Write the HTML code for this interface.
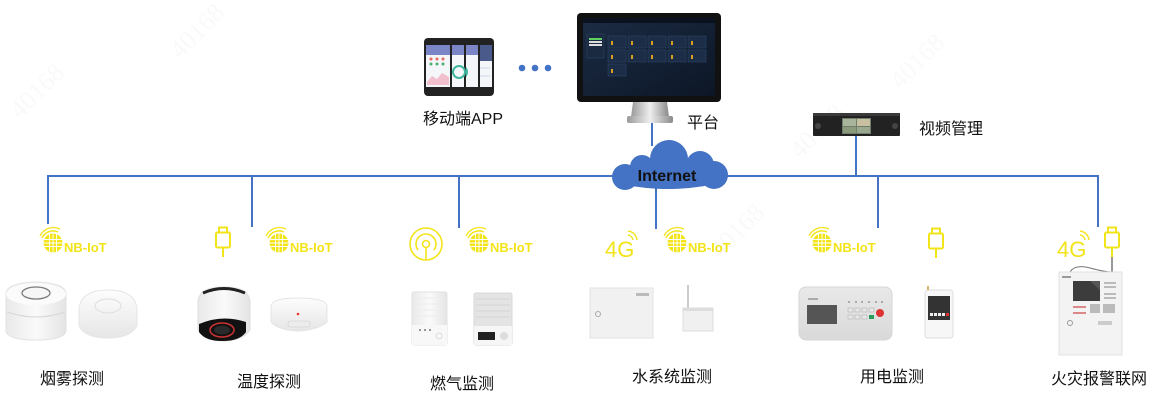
<!DOCTYPE html>
<html><head><meta charset="utf-8"><style>
html,body{margin:0;padding:0;background:#fff;}
svg{display:block;}
.lbl{font-family:"Liberation Sans","Noto Sans CJK SC",sans-serif;font-size:16px;fill:#111;}
.nb{font-family:"Liberation Sans",sans-serif;font-weight:bold;font-size:13px;fill:#f3e41a;}
.g4{font-family:"Liberation Sans",sans-serif;font-size:22px;fill:#f3e41a;}
</style></head><body>
<svg width="1157" height="409" viewBox="0 0 1157 409" xmlns="http://www.w3.org/2000/svg">
<defs>
<linearGradient id="wh" x1="0" y1="0" x2="0" y2="1"><stop offset="0" stop-color="#fdfdfd"/><stop offset="1" stop-color="#e6e6e6"/></linearGradient>
<linearGradient id="wh2" x1="0" y1="0" x2="1" y2="0"><stop offset="0" stop-color="#e9e9e9"/><stop offset=".5" stop-color="#fafafa"/><stop offset="1" stop-color="#e4e4e4"/></linearGradient>
<linearGradient id="gr" x1="0" y1="0" x2="0" y2="1"><stop offset="0" stop-color="#e9e9e9"/><stop offset="1" stop-color="#d9d9d9"/></linearGradient>
<linearGradient id="stand" x1="0" y1="0" x2="1" y2="0"><stop offset="0" stop-color="#9a9a9a"/><stop offset=".5" stop-color="#eeeeee"/><stop offset="1" stop-color="#8a8a8a"/></linearGradient>
<linearGradient id="scr" x1="0" y1="0" x2="1" y2="1"><stop offset="0" stop-color="#1c2c44"/><stop offset="1" stop-color="#0c1626"/></linearGradient>
<g id="nbglobe">
 <circle cx="0" cy="0" r="9.5" fill="#f3e41a"/>
 <path d="M-9.5 -3.5H9.5M-9.5 0H9.5M-9.5 3.5H9.5M-3.5 -9.5V9.5M0 -9.5V9.5M3.5 -9.5V9.5" stroke="#fff" stroke-width=".9"/>
 <path d="M-11 -5A12 12 0 0 1 5 -11" stroke="#f3e41a" stroke-width="1.5" fill="none"/>
 <path d="M-13 -7A15 15 0 0 1 7 -14" stroke="#f3e41a" stroke-width="1.3" fill="none"/>
</g>
<g id="plug" fill="none" stroke="#f3e41a" stroke-width="2">
 <rect x="3" y="0.5" width="8" height="5"/>
 <rect x="0" y="5.5" width="14" height="15" rx="1.5"/>
 <path d="M7 20.5V30"/>
</g>
</defs>

<rect width="1157" height="409" fill="#fff"/>

<!-- watermarks -->
<g font-family="Liberation Serif,serif" font-size="26" fill="#000" opacity="0.025">
<text transform="translate(20,120) rotate(-45)">40168</text>
<text transform="translate(180,60) rotate(-45)">40168</text>
<text transform="translate(720,260) rotate(-45)">40168</text>
<text transform="translate(800,160) rotate(-45)">40168</text>
<text transform="translate(900,90) rotate(-45)">40168</text>
</g>

<!-- connectors -->
<g stroke="#4472c4" stroke-width="2" fill="none">
<path d="M48 176H1098"/>
<path d="M48 175V224"/>
<path d="M252 175V227"/>
<path d="M459 175V228"/>
<path d="M656 186V229"/>
<path d="M878 175V228"/>
<path d="M1098 175V227"/>
<path d="M856 136V177"/>
<path d="M652 123V146"/>
</g>

<!-- cloud -->
<g fill="#4472c4">
<ellipse cx="668" cy="176" rx="56" ry="13"/>
<circle cx="669" cy="159" r="19"/>
<circle cx="642" cy="167" r="12"/>
<circle cx="700" cy="165" r="14"/>
<circle cx="714" cy="175" r="14"/>
<circle cx="625" cy="177" r="13"/>
</g>
<text x="667" y="181" text-anchor="middle" font-family="Liberation Sans,sans-serif" font-weight="bold" font-size="16" fill="#111">Internet</text>

<!-- phones -->
<g>
 <g transform="translate(467,38)"><rect width="27" height="58" rx="4" fill="#222"/><rect x="2" y="7" width="23" height="42" fill="#f4f6fa"/><rect x="2" y="7" width="23" height="16" fill="#4a5a8a"/><path d="M4 30h19M4 38h19" stroke="#cfd7e6"/></g>
 <g transform="translate(453,38)"><rect width="27" height="58" rx="4" fill="#222"/><rect x="2" y="7" width="23" height="42" fill="#f4f6fa"/><rect x="2" y="7" width="23" height="10" fill="#7b86c6"/><circle cx="8" cy="34" r="6" fill="none" stroke="#3fb6a0" stroke-width="2"/></g>
 <g transform="translate(439,38)"><rect width="27" height="58" rx="4" fill="#222"/><rect x="2" y="7" width="23" height="42" fill="#f4f6fa"/><rect x="2" y="7" width="23" height="10" fill="#7b86c6"/><circle cx="20" cy="34" r="6" fill="none" stroke="#3fb6a0" stroke-width="2"/></g>
 <g transform="translate(424,38)"><rect width="28" height="58" rx="4" fill="#222"/><rect x="2" y="7" width="24" height="42" fill="#f4f6fa"/><rect x="2" y="7" width="24" height="10" fill="#7b86c6"/><g fill="#e96b5a"><circle cx="7" cy="21" r="1.5"/><circle cx="13" cy="21" r="1.5"/><circle cx="19" cy="21" r="1.5"/></g><g fill="#4cb071"><circle cx="7" cy="26" r="1.5"/><circle cx="13" cy="26" r="1.5"/><circle cx="19" cy="26" r="1.5"/></g><path d="M3 44L8 38L13 41L18 35L25 39V47H3Z" fill="#f2c0cc"/></g>
</g>
<g fill="#4472c4"><circle cx="522" cy="68" r="3.3"/><circle cx="535" cy="68" r="3.3"/><circle cx="548" cy="68" r="3.3"/></g>
<text class="lbl" x="423" y="124">移动端APP</text>

<!-- monitor -->
<g>
 <rect x="577" y="13" width="144" height="89" rx="4" fill="#111"/>
 <rect x="583" y="18" width="132" height="78" fill="url(#scr)"/>
 <rect x="583" y="18" width="132" height="5" fill="#0a1220"/>
 <rect x="587" y="34" width="17" height="24" fill="#1a2a40" stroke="#2c4866" stroke-width=".5"/>
 <rect x="589" y="38" width="13" height="2" fill="#5fcf5f"/><rect x="589" y="41" width="13" height="2" fill="#ddd"/><rect x="589" y="44" width="13" height="2" fill="#ddd"/>
 <g fill="#1b2d47" stroke="#2e4a6c" stroke-width=".5">
  <rect x="608" y="36" width="18" height="12"/><rect x="628" y="36" width="18" height="12"/><rect x="648" y="36" width="18" height="12"/><rect x="668" y="36" width="18" height="12"/><rect x="688" y="36" width="18" height="12"/>
  <rect x="608" y="50" width="18" height="12"/><rect x="628" y="50" width="18" height="12"/><rect x="648" y="50" width="18" height="12"/><rect x="668" y="50" width="18" height="12"/><rect x="688" y="50" width="18" height="12"/>
  <rect x="608" y="64" width="18" height="12"/>
 </g>
 <g fill="#d9a020"><rect x="611" y="41" width="2" height="4"/><rect x="631" y="41" width="2" height="4"/><rect x="651" y="41" width="2" height="4"/><rect x="671" y="41" width="2" height="4"/><rect x="691" y="41" width="2" height="4"/><rect x="611" y="55" width="2" height="4"/><rect x="631" y="55" width="2" height="4"/><rect x="651" y="55" width="2" height="4"/><rect x="671" y="55" width="2" height="4"/><rect x="691" y="55" width="2" height="4"/><rect x="611" y="69" width="2" height="4"/></g>
 <path d="M633 102H667L669 117H631Z" fill="url(#stand)"/>
 <rect x="627" y="116" width="46" height="7" rx="2" fill="url(#stand)"/>
</g>
<text class="lbl" x="687" y="128">平台</text>

<!-- video management -->
<g>
 <rect x="813" y="113" width="87" height="23" rx="1" fill="#222"/>
 <rect x="813" y="113" width="87" height="3" fill="#3a3a3a"/>
 <rect x="842" y="118" width="29" height="16" fill="#6f7d6a"/>
 <rect x="843" y="119" width="13" height="7" fill="#a8b59c"/><rect x="857" y="119" width="13" height="7" fill="#c8c0a0"/><rect x="843" y="127" width="13" height="6" fill="#8a9a7a"/><rect x="857" y="127" width="13" height="6" fill="#9aa890"/>
 <circle cx="818" cy="126" r="3" fill="#444"/><circle cx="895" cy="126" r="3" fill="#444"/>
</g>
<text class="lbl" x="919" y="134">视频管理</text>

<!-- smoke group -->
<use href="#nbglobe" x="53" y="243"/>
<text class="nb" x="64" y="252">NB-IoT</text>
<g>
 <path d="M6 294Q6 283 36 282Q66 283 66 294V330Q66 340 36 340Q6 340 6 330Z" fill="url(#wh2)" stroke="#e2e2e2"/>
 <ellipse cx="36" cy="294" rx="30" ry="11" fill="#fbfbfb"/>
 <path d="M7 312Q36 322 65 312" stroke="#d6d6d6" fill="none"/>
 <ellipse cx="36" cy="293" rx="14" ry="6" fill="#f6f6f6" stroke="#7a7a7a" stroke-width="1.3"/>
 <path d="M79 310Q80 290 108 290Q136 290 137 310V326Q130 338 108 338Q85 338 79 326Z" fill="url(#wh)" stroke="#e6e6e6"/>
 <ellipse cx="108" cy="306" rx="13" ry="7" fill="none" stroke="#dedede"/>
</g>
<text class="lbl" x="40" y="384">烟雾探测</text>

<!-- temperature group -->
<use href="#plug" x="216" y="227"/>
<use href="#nbglobe" x="279" y="243"/>
<text class="nb" x="290" y="252">NB-IoT</text>
<g>
 <path d="M198 302Q199 287 224 287Q249 287 250 302V330Q242 341 224 341Q205 341 198 330Z" fill="url(#wh2)" stroke="#ddd"/>
 <path d="M203 293Q224 284 245 293" stroke="#222" stroke-width="3" fill="none"/>
 <path d="M199 324Q222 314 246 322V332Q240 341 222 341Q205 341 199 332Z" fill="#111"/>
 <ellipse cx="222" cy="330" rx="12" ry="7" fill="none" stroke="#c33" stroke-width="1.5"/>
 <ellipse cx="222" cy="330" rx="8" ry="4.5" fill="#2a2a2a"/>
 <path d="M271 306Q272 298 298 298Q326 298 327 306V322Q318 330 298 331Q278 330 271 322Z" fill="url(#wh)" stroke="#e4e4e4"/>
 <rect x="288" y="321" width="22" height="6" rx="2" fill="#ececec" stroke="#ccc" stroke-width=".5"/>
 <circle cx="298" cy="314" r="1.3" fill="#e33"/>
</g>
<text class="lbl" x="237" y="387">温度探测</text>

<!-- gas group -->
<g fill="none" stroke="#f3e41a" stroke-width="1.6">
 <circle cx="426" cy="244" r="16"/>
 <path d="M418 250A10 10 0 1 1 434 250"/>
 <circle cx="426" cy="244" r="3.5"/>
 <path d="M426 247.5V260"/>
</g>
<use href="#nbglobe" x="479" y="243"/>
<text class="nb" x="490" y="252">NB-IoT</text>
<g>
 <rect x="412" y="292" width="35" height="53" rx="2" fill="url(#wh2)" stroke="#e2e2e2"/>
 <path d="M414 298H445M414 304H445M414 310H445M414 316H445" stroke="#ececec"/>
 <rect x="412" y="325" width="35" height="20" fill="#f8f8f8"/>
 <g fill="#777"><circle cx="420" cy="330" r="1"/><circle cx="425" cy="330" r="1"/><circle cx="430" cy="330" r="1"/></g>
 <circle cx="439" cy="336" r="3" fill="none" stroke="#ddd"/>
 <rect x="474" y="293" width="38" height="52" rx="2" fill="#e4e4e4" stroke="#d8d8d8"/>
 <path d="M476 299H510M476 305H510M476 311H510M476 317H510" stroke="#d4d4d4"/>
 <rect x="474" y="326" width="38" height="19" fill="#f6f6f6"/>
 <rect x="478" y="332" width="17" height="8" fill="#222"/>
 <circle cx="504" cy="336" r="4" fill="#ddd"/>
</g>
<text class="lbl" x="430" y="389">燃气监测</text>

<!-- water group -->
<text class="g4" x="605" y="257">4G</text>
<g fill="none" stroke="#f3e41a" stroke-width="1.4"><path d="M628 235A6 6 0 0 1 633 240"/><path d="M628 231A10 10 0 0 1 637 240"/></g>
<use href="#nbglobe" x="677" y="243"/>
<text class="nb" x="688" y="252">NB-IoT</text>
<g>
 <rect x="590" y="288" width="63" height="50" fill="#f1f1f1" stroke="#e2e2e2"/>
 <circle cx="598" cy="314" r="2.5" fill="none" stroke="#aaa"/>
 <rect x="636" y="293" width="13" height="3" fill="#bbb"/>
 <path d="M688 285V309" stroke="#bbb" stroke-width="1.5"/>
 <rect x="683" y="308" width="30" height="23" fill="#f0f0f0" stroke="#ddd"/>
 <rect x="683" y="308" width="30" height="3" fill="#ddd"/>
</g>
<text class="lbl" x="632" y="382">水系统监测</text>

<!-- power group -->
<use href="#nbglobe" x="822" y="243"/>
<text class="nb" x="833" y="252">NB-IoT</text>
<use href="#plug" x="929" y="228"/>
<g>
 <rect x="799" y="287" width="93" height="53" rx="7" fill="url(#gr)" stroke="#d6d6d6"/>
 <rect x="807" y="305" width="30" height="19" fill="#555"/>
 <rect x="808" y="298" width="10" height="2" fill="#aaa"/>
 <g fill="#999"><circle cx="849" cy="302" r="1"/><circle cx="856" cy="302" r="1"/><circle cx="862" cy="302" r="1"/><circle cx="869" cy="302" r="1"/><circle cx="876" cy="302" r="1"/><circle cx="882" cy="302" r="1"/></g>
 <g fill="#e6e6e6" stroke="#aaa" stroke-width=".5"><rect x="848" y="308" width="5" height="4"/><rect x="855" y="308" width="5" height="4"/><rect x="862" y="308" width="5" height="4"/><rect x="869" y="308" width="5" height="4"/><rect x="848" y="315" width="5" height="4"/><rect x="855" y="315" width="5" height="4"/><rect x="862" y="315" width="5" height="4"/></g>
 <rect x="869" y="315" width="5" height="4" fill="#2a9a5a"/>
 <circle cx="880" cy="313" r="4" fill="#d33"/>
 <rect x="925" y="290" width="28" height="48" rx="3" fill="#f7f7f7" stroke="#ddd"/>
 <rect x="928" y="296" width="22" height="24" fill="#333"/>
 <g fill="#eee"><rect x="930" y="313" width="3" height="3"/><rect x="934" y="313" width="3" height="3"/><rect x="938" y="313" width="3" height="3"/><rect x="942" y="313" width="3" height="3"/></g>
 <rect x="946" y="313" width="3" height="3" fill="#d33"/>
 <path d="M928 290V286" stroke="#c9a040" stroke-width="1.5"/>
</g>
<text class="lbl" x="860" y="382">用电监测</text>

<!-- fire group -->
<text class="g4" x="1057" y="257">4G</text>
<g fill="none" stroke="#f3e41a" stroke-width="1.4"><path d="M1080 235A6 6 0 0 1 1085 240"/><path d="M1080 231A10 10 0 0 1 1089 240"/></g>
<use href="#plug" x="1105" y="227"/>
<path d="M1112 257V272" stroke="#777" stroke-width="1.5"/>
<path d="M1070 272Q1075 264 1090 268Q1105 272 1112 272" stroke="#777" fill="none"/>
<g>
 <rect x="1059" y="272" width="63" height="83" fill="#f3f3f3" stroke="#e0e0e0"/>
 <rect x="1062" y="276" width="9" height="2" fill="#999"/>
 <rect x="1073" y="281" width="27" height="20" fill="#3c3c3c"/>
 <path d="M1090 281L1100 281L1100 290Z" fill="#555"/>
 <g fill="#bbb"><rect x="1104" y="282" width="12" height="2"/><rect x="1104" y="286" width="12" height="2"/><rect x="1104" y="293" width="12" height="2"/><rect x="1104" y="297" width="12" height="2"/></g>
 <g fill="#d88"><rect x="1073" y="306" width="13" height="2"/><rect x="1073" y="312" width="13" height="2"/></g>
 <g fill="#bbb"><rect x="1090" y="304" width="10" height="9"/><rect x="1103" y="304" width="12" height="9"/></g>
 <circle cx="1070" cy="323" r="2.5" fill="none" stroke="#999"/>
 <rect x="1098" y="321" width="14" height="4" fill="#ccc"/>
</g>
<text class="lbl" x="1051" y="384">火灾报警联网</text>
</svg>
</body></html>
